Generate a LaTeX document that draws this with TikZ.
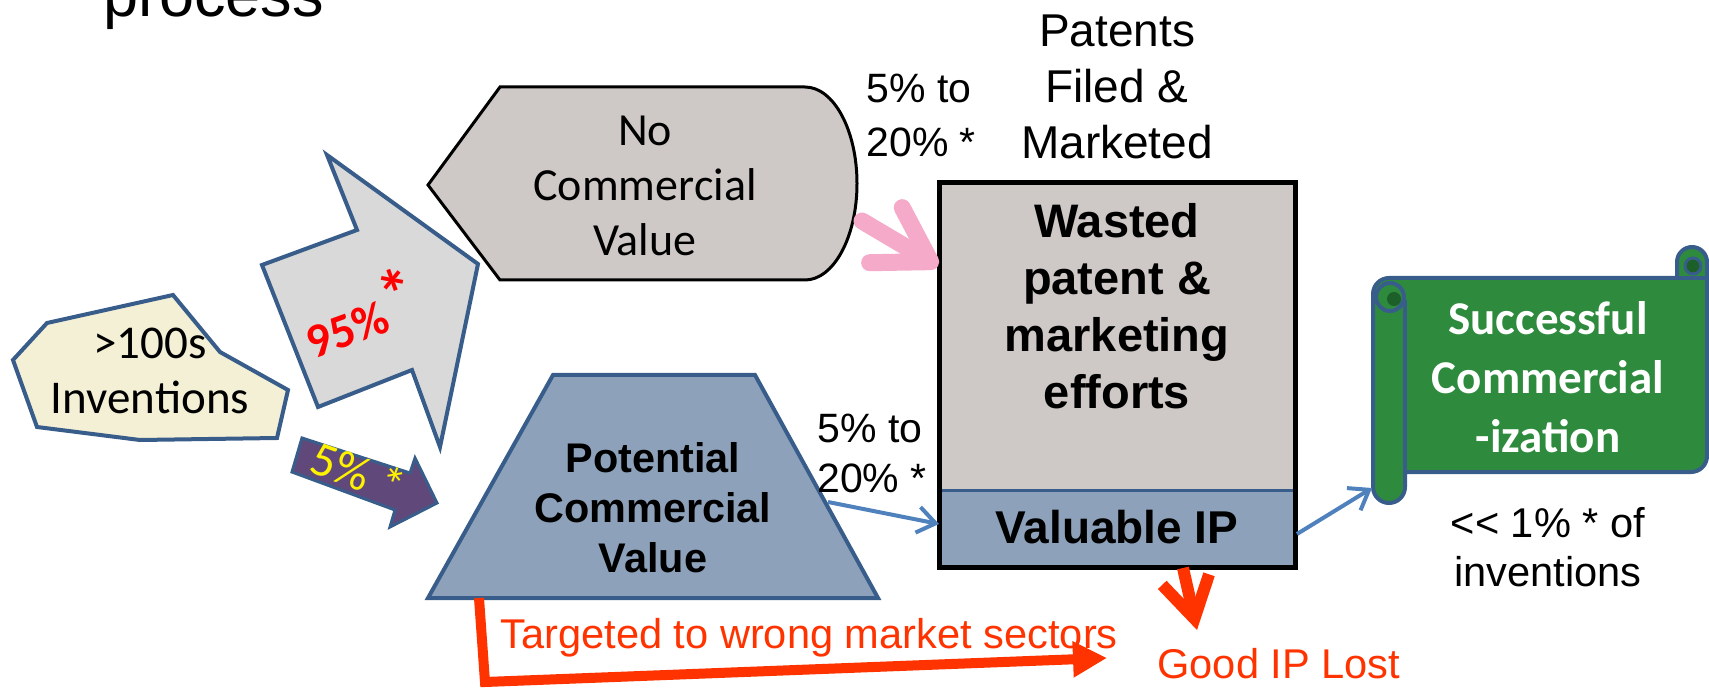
\documentclass[tikz,border=0pt]{standalone}
\usepackage{fontspec}
\setmainfont{Liberation Sans}
\newfontfamily\calfont{Carlito}
\usetikzlibrary{arrows.meta}
\definecolor{outl}{RGB}{56,93,138}
\definecolor{cream}{RGB}{243,240,214}
\definecolor{lgrey}{RGB}{217,217,217}
\definecolor{tgrey}{RGB}{206,200,198}
\definecolor{tblue}{RGB}{141,162,186}
\definecolor{purp}{RGB}{96,73,122}
\definecolor{scrollgreen}{RGB}{46,139,62}
\definecolor{darkgreen}{RGB}{28,95,40}
\definecolor{redor}{RGB}{255,51,0}
\definecolor{pinkarr}{RGB}{244,170,200}
\definecolor{bluearr}{RGB}{79,129,189}
\newcommand\myfs[2]{\fontsize{#1}{#2}\selectfont}
\tikzset{
  shapeline/.style={draw=outl, line width=2pt, line join=miter},
  lbl/.style={inner sep=0pt, align=center},
  blueconn/.style={bluearr, line width=2pt, -{Straight Barb[length=9pt,width=13pt]}},
}
\begin{document}
\begin{tikzpicture}[x=0.5pt,y=-0.5pt]
\useasboundingbox (0,0) rectangle (1709,695);

% title
\node[anchor=base west, inner sep=0pt] (title) at (103,17) {\myfs{31.5}{36}process};

% inventions
\draw[shapeline, fill=cream] (13,360) -- (47,323) -- (173,295) -- (220,352) -- (288,390) -- (277,438) -- (140,440) -- (37,427) -- cycle;
\node[lbl, font=\calfont\myfs{23.5}{27.5}] (inv) at (150,371) {>100s\\Inventions};

% 95% arrow
\draw[shapeline, fill=lgrey] (262,265) -- (357,230) -- (327,155) -- (478,264) -- (440,447) -- (412,370) -- (318,407) -- cycle;
\node[lbl, rotate=20, text=red, font=\calfont\bfseries\myfs{24}{28}] (p95) at (359,312) {95\%\raisebox{0.2em}{\myfs{34}{36}*}};

% 5% arrow
\draw[outl, line width=1.5pt, fill=purp] (302,438) -- (410,473) -- (415,458) -- (437,503) -- (390,527) -- (395,510) -- (292,472) -- cycle;
\node[lbl, rotate=-20, text=yellow, font=\calfont\myfs{24.5}{28}] (p5) at (358,472) {5\% *};

% no commercial value
\draw[black, line width=1.5pt, fill=tgrey] (428,185) -- (500,87) -- (805,87) .. controls (833.7,87) and (857,130.2) .. (857,183.5) .. controls (857,236.8) and (833.7,280) .. (805,280) -- (500,280) -- cycle;
\node[lbl, font=\calfont\myfs{23}{27.5}] (ncv) at (645,186) {No\\Commercial\\Value};

% potential commercial value
\draw[shapeline, fill=tblue] (553,375) -- (755,375) -- (878,598) -- (428,598) -- cycle;
\node[lbl, font=\bfseries\myfs{20.7}{25}] (pcv) at (653,508) {Potential\\Commercial\\Value};

% wasted / valuable IP box
\node[fill=tgrey, inner sep=0pt, minimum width=177.5pt, minimum height=153.5pt] (wastebox) at (1117.5,336.5) {};
\node[fill=tblue, inner sep=0pt, minimum width=177.5pt, minimum height=38.5pt] (vipbox) at (1117.5,528.5) {};
\draw[outl, line width=1.5pt] (wastebox.south west) -- (wastebox.south east);
\draw[black, line width=2.2pt] (wastebox.north west) rectangle (vipbox.south east);
\node[lbl, font=\bfseries\myfs{23.5}{28.5}] (waste) at (1117,306) {Wasted\\patent \&\\marketing\\efforts};
\node[lbl, font=\bfseries\myfs{23}{27}] (vip) at (1117,527) {Valuable IP};

% labels above
\node[lbl, font=\myfs{23}{28}] (pat) at (1117,87) {Patents\\Filed \&\\Marketed};
\node[lbl, align=left, anchor=west, font=\myfs{20.5}{27}] (pct1) at (866,115) {5\% to\\20\% *};
\node[lbl, align=left, anchor=west, font=\myfs{20.5}{25}] (pct2) at (817,453) {5\% to\\20\% *};

% scroll
\draw[shapeline, fill=scrollgreen, line join=round] (1373,294) arc[start angle=180, end angle=90, radius=8pt] -- (1677,278) -- (1677,262) arc[start angle=180, end angle=0, radius=7.5pt] -- (1707,456) arc[start angle=0, end angle=-90, radius=8pt] -- (1405,472) -- (1405,487) arc[start angle=0, end angle=-180, radius=8pt] -- cycle;
\draw[shapeline] (1405,300) -- (1405,472);
\draw[shapeline] (1677,278) -- (1707,278);
\draw[shapeline, fill=scrollgreen] (1390,297) circle[radius=7pt];
\fill[darkgreen] (1394,299) circle[radius=3.5pt];
\draw[outl, line width=1.5pt, fill=darkgreen] (1693,266) circle[radius=4pt];
\node[lbl, text=white, font=\calfont\bfseries\myfs{23.5}{29.5}] (succ) at (1548,377) {Successful\\Commercial\\-ization};
\node[lbl, font=\myfs{20.8}{24.5}] (pct3) at (1548,547) {<{}< 1\% * of\\inventions};

% red texts
\node[anchor=base west, inner sep=0pt, text=redor, font=\myfs{20.8}{25}] (wrong) at (500,648) {Targeted to wrong market sectors};
\node[anchor=base west, inner sep=0pt, text=redor, font=\myfs{20.8}{25}] (lost) at (1157,678) {Good IP Lost};

% connectors
\coordinate (pinkS) at (862,221);
\coordinate (pinkE) at (938,266);
\draw[pinkarr, line width=8.5pt, line cap=round, -{Straight Barb[length=26pt,width=32pt,round]}] (pinkS) -- (pinkE);

\coordinate (pcvR) at (828,502);
\coordinate (vipL) at (939,524);
\draw[blueconn] (pcvR) -- (vipL);
\coordinate (vipR) at (1297,534);
\coordinate (scrollL) at (1372,488);
\draw[blueconn] (vipR) -- (scrollL);

\coordinate (lostS) at (1183,568);
\coordinate (lostE) at (1197,630);
\draw[redor, line width=6pt, -{Straight Barb[length=20pt,width=24pt]}] (lostS) -- (lostE);

\coordinate (wrongS) at (479,598);
\coordinate (wrongC) at (485,682);
\coordinate (wrongE) at (1107,658);
\draw[redor, line width=5pt, line join=miter, -{Triangle[length=17pt,width=17pt]}] (wrongS) -- (wrongC) -- (wrongE);
\end{tikzpicture}
\end{document}
